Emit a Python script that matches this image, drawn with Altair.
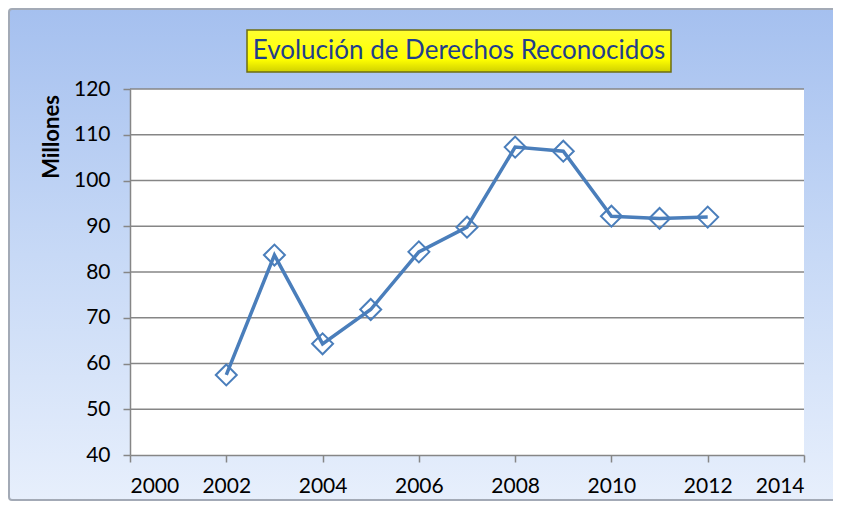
import altair as alt
import pandas as pd

# ---- data ----
years = [2002, 2003, 2004, 2005, 2006, 2007, 2008, 2009, 2010, 2011, 2012]
values = [57.5, 83.7, 64.3, 71.8, 84.4, 89.8, 107.3, 106.4, 92.2, 91.7, 92.0]
y_ticks = [40, 50, 60, 70, 80, 90, 100, 110, 120]
x_ticks = [2000, 2002, 2004, 2006, 2008, 2010, 2012, 2014]
title_text = "Evolución de Derechos Reconocidos"
y_title = "Millones"

# ---- layout ----
W, H = 674, 366
PL, PT, PR, PB = 122, 81, 29, 46
FONT = "Lato"
LINE_BLUE = "#4a7ebb"
GRID = "#868686"

df = pd.DataFrame({"year": years, "value": values})
grid_df = pd.DataFrame({"g": y_ticks[1:]})
one = pd.DataFrame({"a": [0]})

xscale = alt.Scale(domain=[x_ticks[0], x_ticks[-1]], nice=False, zero=False)
yscale = alt.Scale(domain=[y_ticks[0], y_ticks[-1]], nice=False, zero=False)

bg = alt.Chart(one).mark_rect(
    fill=alt.Gradient(
        gradient="linear",
        stops=[alt.GradientStop(color="#a5c0ef", offset=0),
               alt.GradientStop(color="#c7d9f6", offset=0.5),
               alt.GradientStop(color="#e7effc", offset=1)],
        x1=0, x2=0, y1=0, y2=1),
    stroke="#a3aab6", strokeWidth=2, cornerRadius=3,
).encode(x=alt.value(-PL + 1), x2=alt.value(W + PR + 8),
         y=alt.value(-PT + 1), y2=alt.value(H + PB - 1))

plot_bg = alt.Chart(one).mark_rect(fill="white").encode(
    x=alt.value(0), x2=alt.value(W), y=alt.value(0), y2=alt.value(H))

grid = alt.Chart(grid_df).mark_rule(color=GRID, strokeWidth=1.5).encode(
    y=alt.Y("g:Q", scale=yscale))

axis_common = dict(
    grid=False, domainColor=GRID, domainWidth=1.5, tickColor=GRID,
    tickWidth=1.5, tickSize=7, labelFont=FONT, labelFontSize=21,
    labelColor="#000000", labelPadding=13, title=None, zindex=1,
)

line = alt.Chart(df).mark_line(color=LINE_BLUE, strokeWidth=3.5).encode(
    x=alt.X("year:Q", scale=xscale,
            axis=alt.Axis(values=x_ticks, format="d", **axis_common)),
    y=alt.Y("value:Q", scale=yscale,
            axis=alt.Axis(values=y_ticks, format="d", **axis_common)),
)

points = alt.Chart(df).mark_point(
    shape="diamond", filled=False, size=440, strokeWidth=2, color=LINE_BLUE,
    opacity=1,
).encode(x=alt.X("year:Q", scale=xscale), y=alt.Y("value:Q", scale=yscale))

title_box = alt.Chart(one).mark_rect(
    fill=alt.Gradient(
        gradient="linear",
        stops=[alt.GradientStop(color="#ffff30", offset=0),
               alt.GradientStop(color="#ffff00", offset=0.7),
               alt.GradientStop(color="#d0d000", offset=1)],
        x1=0, x2=0, y1=0, y2=1),
    stroke="#6e6e10", strokeWidth=1.5,
).encode(x=alt.value(117), x2=alt.value(541), y=alt.value(-59), y2=alt.value(-17))

title_mark = alt.Chart(pd.DataFrame({"t": [title_text]})).mark_text(
    font=FONT, fontSize=26, color="#1f3e8c", baseline="middle", align="center",
).encode(text="t:N", x=alt.value(329), y=alt.value(-38))

ytitle_mark = alt.Chart(pd.DataFrame({"t": [y_title]})).mark_text(
    font=FONT, fontSize=22, fontWeight="bold", color="#000000", angle=270,
    baseline="middle", align="center",
).encode(text="t:N", x=alt.value(-78), y=alt.value(48))

chart = alt.layer(
    bg, plot_bg, grid, line, points, title_box, title_mark, ytitle_mark
).properties(
    width=W, height=H,
    autosize=alt.AutoSizeParams(type="none"),
    padding={"left": PL, "top": PT, "right": PR, "bottom": PB},
).configure_view(stroke=None).configure(background="white")

chart.save("out.html", embed_options={"renderer": "svg", "actions": False})
